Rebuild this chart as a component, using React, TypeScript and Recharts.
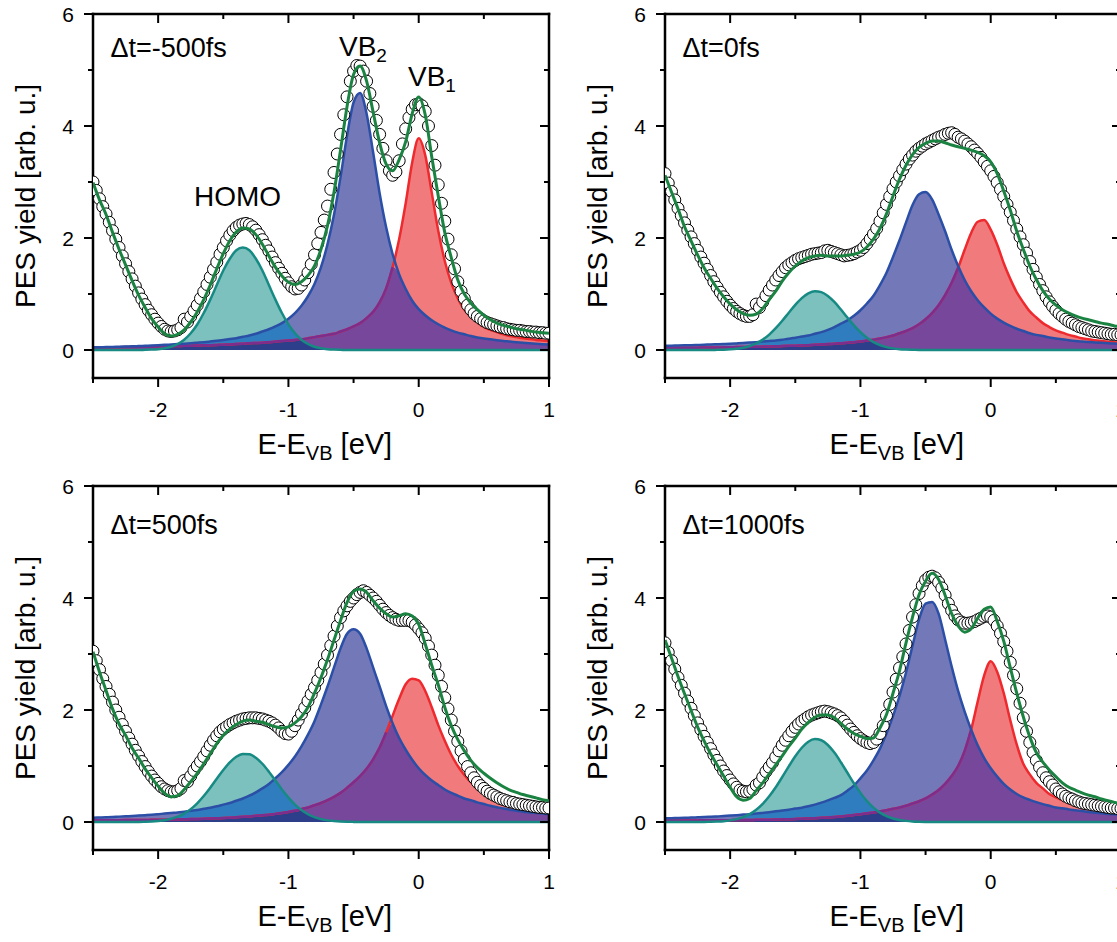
import React from "react";
import { ComposedChart, Area, Line, Scatter, XAxis, YAxis } from "recharts";

const FONT = '"Liberation Sans", Arial, Helvetica, sans-serif';

// ---------- energy axes (eV) ----------
const energyGrid = [
  -2.5, -2.45, -2.4, -2.35, -2.3, -2.25, -2.2, -2.15, -2.1, -2.05,
  -2.0, -1.95, -1.9, -1.85, -1.8, -1.75, -1.7, -1.65, -1.6, -1.55,
  -1.5, -1.45, -1.4, -1.35, -1.3, -1.25, -1.2, -1.15, -1.1, -1.05,
  -1.0, -0.95, -0.9, -0.85, -0.8, -0.75, -0.7, -0.65, -0.6, -0.55,
  -0.5, -0.45, -0.4, -0.35, -0.3, -0.25, -0.2, -0.15, -0.1, -0.05,
  0, 0.05, 0.1, 0.15, 0.2, 0.25, 0.3, 0.35, 0.4, 0.45,
  0.5, 0.55, 0.6, 0.65, 0.7, 0.75, 0.8, 0.85, 0.9, 0.95,
  1.0,
];

const measuredEnergy = [
  -2.5, -2.475, -2.45, -2.425, -2.4, -2.375, -2.35, -2.325, -2.3, -2.275,
  -2.25, -2.225, -2.2, -2.175, -2.15, -2.125, -2.1, -2.075, -2.05, -2.025,
  -2.0, -1.975, -1.95, -1.925, -1.9, -1.875, -1.85, -1.825, -1.8, -1.775,
  -1.75, -1.725, -1.7, -1.675, -1.65, -1.625, -1.6, -1.575, -1.55, -1.525,
  -1.5, -1.475, -1.45, -1.425, -1.4, -1.375, -1.35, -1.325, -1.3, -1.275,
  -1.25, -1.225, -1.2, -1.175, -1.15, -1.125, -1.1, -1.075, -1.05, -1.025,
  -1.0, -0.975, -0.95, -0.925, -0.9, -0.875, -0.85, -0.825, -0.8, -0.775,
  -0.75, -0.725, -0.7, -0.675, -0.65, -0.625, -0.6, -0.575, -0.55, -0.525,
  -0.5, -0.475, -0.45, -0.425, -0.4, -0.375, -0.35, -0.325, -0.3, -0.275,
  -0.25, -0.225, -0.2, -0.175, -0.15, -0.125, -0.1, -0.075, -0.05, -0.025,
  0, 0.025, 0.05, 0.075, 0.1, 0.125, 0.15, 0.175, 0.2, 0.225,
  0.25, 0.275, 0.3, 0.325, 0.35, 0.375, 0.4, 0.425, 0.45, 0.475,
  0.5, 0.525, 0.55, 0.575, 0.6, 0.625, 0.65, 0.675, 0.7, 0.725,
  0.75, 0.775, 0.8, 0.825, 0.85, 0.875, 0.9, 0.925, 0.95, 0.975,
  1.0,
];

const xTicks = [-2.5, -2, -1.5, -1, -0.5, 0, 0.5, 1];
const yTicks = [0, 1, 2, 3, 4, 5, 6];
const delayLabels = ["\u0394t=-500fs", "\u0394t=0fs", "\u0394t=500fs", "\u0394t=1000fs"];

// ---------- panel 1 : -500 fs ----------
const p1Homo = [
  0, 0, 0, 0, 0, 0, 0, 0.001, 0.003, 0.007,
  0.015, 0.031, 0.059, 0.107, 0.184, 0.298, 0.456, 0.66, 0.9, 1.16,
  1.42, 1.63, 1.78, 1.83, 1.78, 1.63, 1.42, 1.16, 0.9, 0.66,
  0.456, 0.298, 0.184, 0.107, 0.059, 0.031, 0.015, 0.007, 0.003, 0.001,
  0, 0, 0, 0, 0, 0, 0, 0, 0, 0,
  0, 0, 0, 0, 0, 0, 0, 0, 0, 0,
  0, 0, 0, 0, 0, 0, 0, 0, 0, 0,
  0,
];
const p1Vb2 = [
  0.046, 0.049, 0.052, 0.055, 0.058, 0.062, 0.066, 0.07, 0.075, 0.08,
  0.086, 0.092, 0.098, 0.105, 0.112, 0.12, 0.13, 0.14, 0.152, 0.165,
  0.18, 0.195, 0.21, 0.235, 0.26, 0.29, 0.33, 0.37, 0.42, 0.48,
  0.56, 0.66, 0.79, 0.96, 1.18, 1.48, 1.89, 2.42, 3.09, 3.83,
  4.42, 4.59, 4.22, 3.53, 2.8, 2.19, 1.71, 1.35, 1.09, 0.88,
  0.73, 0.62, 0.53, 0.46, 0.4, 0.35, 0.31, 0.28, 0.25, 0.225,
  0.205, 0.19, 0.175, 0.16, 0.15, 0.138, 0.128, 0.12, 0.112, 0.104,
  0.097,
];
const p1Vb1 = [
  0.044, 0.046, 0.047, 0.049, 0.05, 0.052, 0.054, 0.056, 0.058, 0.06,
  0.063, 0.065, 0.068, 0.071, 0.074, 0.077, 0.08, 0.083, 0.087, 0.091,
  0.095, 0.1, 0.105, 0.112, 0.12, 0.125, 0.13, 0.14, 0.15, 0.16,
  0.17, 0.18, 0.19, 0.21, 0.23, 0.25, 0.27, 0.29, 0.33, 0.37,
  0.42, 0.48, 0.57, 0.68, 0.85, 1.1, 1.48, 1.98, 2.62, 3.35,
  3.78, 3.48, 2.81, 2.13, 1.59, 1.2, 0.92, 0.72, 0.6, 0.5,
  0.41, 0.36, 0.32, 0.28, 0.25, 0.23, 0.21, 0.195, 0.18, 0.17,
  0.16,
];
const p1Fit = [
  2.99, 2.68, 2.42, 2.1, 1.8, 1.52, 1.24, 0.98, 0.76, 0.56,
  0.41, 0.29, 0.25, 0.28, 0.36, 0.5, 0.68, 0.9, 1.16, 1.45,
  1.72, 1.95, 2.11, 2.18, 2.16, 2.06, 1.89, 1.68, 1.48, 1.32,
  1.21, 1.17, 1.22, 1.33, 1.5, 1.8, 2.22, 2.82, 3.57, 4.35,
  4.92, 5.07, 4.8, 4.25, 3.7, 3.32, 3.2, 3.4, 3.72, 4.22,
  4.52, 4.2, 3.45, 2.75, 2.1, 1.65, 1.25, 1.0, 0.84, 0.72,
  0.62, 0.54, 0.48, 0.44, 0.41, 0.38, 0.36, 0.34, 0.32, 0.31,
  0.3,
];
const p1Pes = [
  3.0, 2.85, 2.7, 2.56, 2.43, 2.28, 2.13, 1.98, 1.83, 1.68,
  1.54, 1.4, 1.27, 1.14, 1.02, 0.91, 0.81, 0.71, 0.63, 0.55,
  0.48, 0.42, 0.37, 0.34, 0.33, 0.34, 0.36, 0.4, 0.55, 0.5,
  0.6, 0.7, 0.8, 0.92, 1.04, 1.17, 1.3, 1.44, 1.57, 1.71,
  1.83, 1.95, 2.05, 2.13, 2.19, 2.23, 2.25, 2.26, 2.24, 2.2,
  2.14, 2.06, 1.97, 1.87, 1.77, 1.66, 1.56, 1.46, 1.37, 1.28,
  1.2, 1.13, 1.09, 1.1, 1.16, 1.25, 1.38, 1.53, 1.7, 1.9,
  2.1, 2.32, 2.57, 2.87, 3.17, 3.5, 3.85, 4.2, 4.52, 4.8,
  4.98, 5.08, 5.07, 4.98, 4.8, 4.58, 4.35, 4.1, 3.85, 3.6,
  3.38, 3.2, 3.12, 3.18, 3.38, 3.68, 3.95, 4.15, 4.3, 4.38,
  4.4, 4.36, 4.26, 4.0, 3.65, 3.3, 2.95, 2.62, 2.3, 1.98,
  1.7, 1.45, 1.22, 1.05, 0.92, 0.8, 0.72, 0.65, 0.6, 0.56,
  0.52, 0.49, 0.47, 0.45, 0.43, 0.41, 0.4, 0.38, 0.37, 0.36,
  0.35, 0.35, 0.34, 0.33, 0.33, 0.32, 0.32, 0.31, 0.31, 0.3,
  0.3,
];

// ---------- panel 2 : 0 fs ----------
const p2Homo = [
  0, 0, 0, 0, 0, 0, 0, 0, 0.003, 0.006,
  0.012, 0.022, 0.041, 0.072, 0.118, 0.185, 0.275, 0.389, 0.522, 0.666,
  0.806, 0.927, 1.011, 1.05, 1.033, 0.966, 0.858, 0.723, 0.579, 0.44,
  0.318, 0.218, 0.142, 0.088, 0.052, 0.029, 0.015, 0.008, 0.004, 0.001,
  0, 0, 0, 0, 0, 0, 0, 0, 0, 0,
  0, 0, 0, 0, 0, 0, 0, 0, 0, 0,
  0, 0, 0, 0, 0, 0, 0, 0, 0, 0,
  0,
];
const p2Vb2 = [
  0.075, 0.078, 0.081, 0.084, 0.087, 0.09, 0.094, 0.098, 0.102, 0.107,
  0.112, 0.118, 0.125, 0.132, 0.14, 0.15, 0.16, 0.17, 0.185, 0.2,
  0.22, 0.24, 0.26, 0.29, 0.32, 0.36, 0.41, 0.47, 0.53, 0.61,
  0.71, 0.83, 0.97, 1.16, 1.38, 1.66, 1.96, 2.28, 2.59, 2.78,
  2.82, 2.69, 2.42, 2.12, 1.79, 1.5, 1.25, 1.05, 0.89, 0.76,
  0.65, 0.56, 0.49, 0.43, 0.38, 0.34, 0.3, 0.27, 0.25, 0.225,
  0.205, 0.19, 0.175, 0.162, 0.152, 0.143, 0.135, 0.128, 0.121, 0.115,
  0.11,
];
const p2Vb1 = [
  0.037, 0.038, 0.039, 0.04, 0.041, 0.042, 0.043, 0.045, 0.046, 0.048,
  0.05, 0.052, 0.054, 0.056, 0.058, 0.061, 0.064, 0.067, 0.07, 0.074,
  0.078, 0.082, 0.087, 0.092, 0.098, 0.105, 0.112, 0.12, 0.13, 0.14,
  0.152, 0.168, 0.185, 0.205, 0.23, 0.26, 0.3, 0.34, 0.39, 0.46,
  0.55, 0.66, 0.8, 0.98, 1.2, 1.47, 1.79, 2.09, 2.29, 2.32,
  2.15, 1.88, 1.55, 1.27, 1.03, 0.85, 0.69, 0.58, 0.48, 0.41,
  0.35, 0.31, 0.27, 0.24, 0.21, 0.19, 0.175, 0.16, 0.148, 0.137,
  0.128,
];
const p2Fit = [
  3.12, 2.82, 2.52, 2.2, 1.95, 1.7, 1.47, 1.28, 1.1, 0.95,
  0.82, 0.72, 0.65, 0.62, 0.64, 0.74, 0.9, 1.05, 1.23, 1.38,
  1.5, 1.59, 1.65, 1.68, 1.69, 1.68, 1.68, 1.68, 1.69, 1.71,
  1.75, 1.84, 1.98, 2.17, 2.43, 2.75, 3.05, 3.3, 3.49, 3.62,
  3.69, 3.73, 3.73, 3.7, 3.66, 3.63, 3.6, 3.57, 3.53, 3.47,
  3.36, 3.15, 2.84, 2.5, 2.12, 1.8, 1.5, 1.26, 1.06, 0.91,
  0.8, 0.72, 0.66, 0.61, 0.57, 0.54, 0.51, 0.48, 0.46, 0.43,
  0.42,
];
const p2Pes = [
  3.15, 2.98, 2.83, 2.68, 2.53, 2.4, 2.27, 2.14, 2.02, 1.9,
  1.78, 1.66, 1.55, 1.44, 1.33, 1.22, 1.12, 1.03, 0.95, 0.87,
  0.8, 0.74, 0.69, 0.65, 0.62, 0.6, 0.6, 0.63, 0.82, 0.76,
  0.86, 0.97, 1.07, 1.16, 1.25, 1.33, 1.4, 1.47, 1.52, 1.56,
  1.6, 1.63, 1.65, 1.67, 1.69, 1.71, 1.72, 1.73, 1.74, 1.77,
  1.78, 1.76, 1.74, 1.72, 1.7, 1.68, 1.69, 1.7, 1.72, 1.75,
  1.78, 1.83, 1.9, 1.98, 2.07, 2.17, 2.3, 2.45, 2.6, 2.74,
  2.88, 3.0, 3.11, 3.22, 3.32, 3.41, 3.48, 3.55, 3.6, 3.64,
  3.68, 3.71, 3.74, 3.77, 3.8, 3.82, 3.85, 3.87, 3.88, 3.85,
  3.8, 3.77, 3.73, 3.68, 3.63, 3.57, 3.51, 3.44, 3.36, 3.28,
  3.2, 3.1, 2.99, 2.87, 2.74, 2.6, 2.46, 2.31, 2.16, 2.02,
  1.88, 1.73, 1.58, 1.44, 1.3, 1.17, 1.06, 0.95, 0.86, 0.78,
  0.71, 0.65, 0.6, 0.55, 0.51, 0.48, 0.45, 0.42, 0.4, 0.38,
  0.36, 0.34, 0.33, 0.32, 0.31, 0.3, 0.29, 0.28, 0.28, 0.27,
  0.27,
];

// ---------- panel 3 : 500 fs ----------
const p3Homo = [
  0, 0, 0, 0, 0, 0, 0, 0.002, 0.0045, 0.009,
  0.018, 0.032, 0.057, 0.095, 0.151, 0.23, 0.334, 0.463, 0.612, 0.772,
  0.928, 1.065, 1.165, 1.215, 1.21, 1.148, 1.04, 0.898, 0.74, 0.582,
  0.436, 0.311, 0.213, 0.138, 0.086, 0.051, 0.029, 0.016, 0.008, 0.004,
  0.002, 0, 0, 0, 0, 0, 0, 0, 0, 0,
  0, 0, 0, 0, 0, 0, 0, 0, 0, 0,
  0, 0, 0, 0, 0, 0, 0, 0, 0, 0,
  0,
];
const p3Vb2 = [
  0.076, 0.08, 0.085, 0.09, 0.096, 0.102, 0.108, 0.115, 0.122, 0.13,
  0.14, 0.15, 0.16, 0.17, 0.185, 0.2, 0.215, 0.235, 0.255, 0.28,
  0.31, 0.34, 0.38, 0.42, 0.47, 0.53, 0.6, 0.68, 0.78, 0.89,
  1.02, 1.17, 1.35, 1.56, 1.8, 2.1, 2.42, 2.76, 3.1, 3.36,
  3.44, 3.36, 3.1, 2.76, 2.42, 2.07, 1.76, 1.5, 1.29, 1.11,
  0.96, 0.84, 0.74, 0.66, 0.58, 0.52, 0.47, 0.42, 0.39, 0.35,
  0.32, 0.29, 0.265, 0.24, 0.22, 0.2, 0.185, 0.17, 0.16, 0.15,
  0.14,
];
const p3Vb1 = [
  0.03, 0.03, 0.031, 0.032, 0.033, 0.034, 0.035, 0.036, 0.037, 0.038,
  0.04, 0.042, 0.044, 0.046, 0.049, 0.052, 0.055, 0.058, 0.062, 0.067,
  0.072, 0.078, 0.085, 0.092, 0.1, 0.11, 0.12, 0.13, 0.145, 0.16,
  0.18, 0.2, 0.23, 0.26, 0.3, 0.34, 0.39, 0.45, 0.52, 0.61,
  0.71, 0.82, 0.95, 1.12, 1.33, 1.6, 1.9, 2.2, 2.46, 2.56,
  2.53, 2.34, 2.05, 1.73, 1.45, 1.2, 1.0, 0.84, 0.71, 0.61,
  0.53, 0.46, 0.41, 0.36, 0.32, 0.285, 0.255, 0.23, 0.21, 0.195,
  0.18,
];
const p3Fit = [
  3.04, 2.68, 2.35, 2.02, 1.75, 1.55, 1.32, 1.14, 0.95, 0.79,
  0.64, 0.51, 0.45, 0.47, 0.58, 0.72, 0.87, 1.04, 1.22, 1.4,
  1.55, 1.66, 1.74, 1.8, 1.82, 1.8, 1.78, 1.74, 1.7, 1.68,
  1.7, 1.77, 1.88, 2.05, 2.3, 2.58, 2.9, 3.25, 3.6, 3.92,
  4.12, 4.16, 4.1, 3.95, 3.82, 3.72, 3.66, 3.68, 3.72, 3.68,
  3.53, 3.18, 2.8, 2.45, 2.05, 1.72, 1.47, 1.27, 1.1, 0.97,
  0.87, 0.78, 0.7, 0.63, 0.57, 0.53, 0.49, 0.46, 0.43, 0.4,
  0.38,
];
const p3Pes = [
  3.05, 2.88, 2.72, 2.56, 2.42, 2.28, 2.14, 2.0, 1.87, 1.74,
  1.62, 1.5, 1.39, 1.28, 1.18, 1.08, 0.99, 0.9, 0.82, 0.75,
  0.69, 0.63, 0.59, 0.56, 0.54, 0.54, 0.56, 0.6, 0.74, 0.72,
  0.82, 0.92, 1.0, 1.08, 1.17, 1.27, 1.37, 1.46, 1.54, 1.61,
  1.66, 1.7, 1.74, 1.77, 1.8, 1.82, 1.84, 1.85, 1.86, 1.86,
  1.86, 1.85, 1.84, 1.82, 1.8, 1.77, 1.73, 1.68, 1.62, 1.58,
  1.57, 1.62, 1.72, 1.82, 1.93, 2.04, 2.16, 2.28, 2.4, 2.53,
  2.67, 2.82, 2.98, 3.15, 3.32, 3.5, 3.65, 3.77, 3.86, 3.94,
  4.0, 4.06, 4.1, 4.13, 4.1, 4.05, 4.0, 3.94, 3.87, 3.8,
  3.74, 3.69, 3.65, 3.62, 3.6, 3.6, 3.6, 3.6, 3.57, 3.52,
  3.45, 3.38, 3.28, 3.14, 2.98, 2.8, 2.62, 2.42, 2.22, 2.02,
  1.82, 1.62, 1.44, 1.27, 1.12, 0.99, 0.88, 0.79, 0.71, 0.65,
  0.6, 0.55, 0.51, 0.48, 0.45, 0.42, 0.4, 0.38, 0.36, 0.35,
  0.33, 0.32, 0.31, 0.3, 0.29, 0.28, 0.27, 0.26, 0.26, 0.25,
  0.25,
];

// ---------- panel 4 : 1000 fs ----------
const p4Homo = [
  0, 0, 0, 0, 0, 0, 0.002, 0.004, 0.008, 0.015,
  0.029, 0.051, 0.087, 0.14, 0.218, 0.323, 0.458, 0.62, 0.803, 0.993,
  1.174, 1.326, 1.433, 1.48, 1.459, 1.375, 1.239, 1.067, 0.879, 0.691,
  0.52, 0.373, 0.256, 0.168, 0.106, 0.063, 0.036, 0.02, 0.01, 0.005,
  0.002, 0, 0, 0, 0, 0, 0, 0, 0, 0,
  0, 0, 0, 0, 0, 0, 0, 0, 0, 0,
  0, 0, 0, 0, 0, 0, 0, 0, 0, 0,
  0,
];
const p4Vb2 = [
  0.066, 0.069, 0.072, 0.075, 0.079, 0.083, 0.088, 0.093, 0.099, 0.106,
  0.114, 0.122, 0.132, 0.14, 0.15, 0.162, 0.175, 0.19, 0.205, 0.22,
  0.24, 0.255, 0.28, 0.31, 0.345, 0.385, 0.43, 0.48, 0.56, 0.65,
  0.78, 0.92, 1.1, 1.31, 1.58, 1.89, 2.25, 2.67, 3.15, 3.62,
  3.9, 3.93, 3.72, 3.26, 2.78, 2.34, 1.97, 1.65, 1.37, 1.14,
  0.96, 0.81, 0.68, 0.58, 0.5, 0.44, 0.395, 0.355, 0.32, 0.29,
  0.26, 0.245, 0.225, 0.21, 0.195, 0.18, 0.167, 0.155, 0.145, 0.137,
  0.13,
];
const p4Vb1 = [
  0.027, 0.027, 0.028, 0.028, 0.029, 0.029, 0.03, 0.03, 0.031, 0.032,
  0.033, 0.034, 0.035, 0.036, 0.038, 0.04, 0.042, 0.044, 0.047, 0.05,
  0.054, 0.058, 0.063, 0.068, 0.075, 0.082, 0.09, 0.1, 0.11, 0.125,
  0.14, 0.155, 0.17, 0.19, 0.21, 0.235, 0.26, 0.29, 0.33, 0.37,
  0.42, 0.49, 0.57, 0.68, 0.82, 1.0, 1.27, 1.65, 2.15, 2.62,
  2.87, 2.68, 2.3, 1.82, 1.38, 1.04, 0.85, 0.7, 0.6, 0.5,
  0.44, 0.39, 0.34, 0.31, 0.28, 0.26, 0.24, 0.22, 0.2, 0.19,
  0.18,
];
const p4Fit = [
  3.25, 2.93, 2.6, 2.29, 1.99, 1.7, 1.45, 1.22, 1.02, 0.82,
  0.62, 0.45, 0.39, 0.42, 0.56, 0.7, 0.86, 1.02, 1.18, 1.35,
  1.5, 1.66, 1.78, 1.87, 1.91, 1.91, 1.86, 1.76, 1.66, 1.58,
  1.53, 1.49, 1.5, 1.68, 1.92, 2.3, 2.7, 3.2, 3.66, 4.06,
  4.3, 4.44, 4.33, 4.05, 3.72, 3.5, 3.39, 3.45, 3.64, 3.8,
  3.84, 3.58, 3.23, 2.76, 2.3, 1.88, 1.52, 1.24, 1.07, 0.93,
  0.81, 0.7, 0.62, 0.57, 0.52, 0.48, 0.45, 0.41, 0.38, 0.35,
  0.32,
];
const p4Pes = [
  3.2, 3.03, 2.88, 2.73, 2.58, 2.44, 2.3, 2.16, 2.03, 1.9,
  1.77, 1.65, 1.53, 1.42, 1.31, 1.2, 1.1, 1.0, 0.91, 0.83,
  0.75, 0.68, 0.62, 0.57, 0.55, 0.54, 0.55, 0.58, 0.66, 0.7,
  0.8, 0.9, 0.98, 1.06, 1.16, 1.27, 1.37, 1.46, 1.54, 1.62,
  1.69, 1.75, 1.8, 1.84, 1.88, 1.91, 1.93, 1.95, 1.97, 1.98,
  1.97, 1.95, 1.93, 1.9, 1.86, 1.8, 1.73, 1.66, 1.6, 1.54,
  1.49, 1.45, 1.42, 1.4, 1.42, 1.48, 1.58, 1.72, 1.9, 2.1,
  2.32, 2.55, 2.75, 2.95, 3.18, 3.42, 3.66, 3.88, 4.08, 4.22,
  4.32, 4.37, 4.39, 4.36, 4.28, 4.18, 4.05, 3.9, 3.78, 3.68,
  3.61, 3.57, 3.55, 3.55, 3.56, 3.58, 3.61, 3.64, 3.67, 3.68,
  3.66, 3.6, 3.5, 3.37, 3.22, 3.05, 2.85, 2.62, 2.38, 2.12,
  1.86, 1.62, 1.42, 1.24, 1.1, 0.98, 0.88, 0.79, 0.72, 0.66,
  0.59, 0.54, 0.5, 0.46, 0.43, 0.41, 0.38, 0.36, 0.34, 0.33,
  0.32, 0.31, 0.3, 0.29, 0.28, 0.27, 0.26, 0.25, 0.25, 0.24,
  0.24,
];

// ---------- layout ----------
const PLOT_W = 456;
const PLOT_H = 364;
const LEFT_W = 92;
const RIGHT_W = 20;
const TOP_H = 14;
const BOTTOM_H = 90;
const CHART_W = LEFT_W + PLOT_W + RIGHT_W;
const CHART_H = TOP_H + PLOT_H + BOTTOM_H;

const C = {
  homoFill: "#7cc1bd",
  homoLine: "#178a84",
  vb2Fill: "#7378b8",
  vb2Line: "#2b4fa6",
  vb1Fill: "#f07a7c",
  vb1Line: "#ee2a2e",
  homoVb2: "#2f7dbf",
  vb1Vb2: "#76479b",
  all3: "#2d3f8a",
  vb1Under: "#7d2d8e",
  fit: "#1a8341",
};

const panels = [
  { left: 92.5, top: 14, homo: p1Homo, vb2: p1Vb2, vb1: p1Vb1, fit: p1Fit, pes: p1Pes, label: delayLabels[0], peaks: true },
  { left: 664.5, top: 14, homo: p2Homo, vb2: p2Vb2, vb1: p2Vb1, fit: p2Fit, pes: p2Pes, label: delayLabels[1], peaks: false },
  { left: 92.5, top: 486, homo: p3Homo, vb2: p3Vb2, vb1: p3Vb1, fit: p3Fit, pes: p3Pes, label: delayLabels[2], peaks: false },
  { left: 664.5, top: 486, homo: p4Homo, vb2: p4Vb2, vb1: p4Vb1, fit: p4Fit, pes: p4Pes, label: delayLabels[3], peaks: false },
];

const isInt = (v: number) => Math.abs(v - Math.round(v)) < 1e-9;
const isEven = (v: number) => isInt(v) && Math.round(v) % 2 === 0;

const BottomTick = (props: any) => {
  const { x, y, payload } = props;
  const v = payload.value;
  const major = isInt(v);
  return (
    <g>
      <line x1={x} x2={x} y1={y} y2={y + (major ? 9 : 5)} stroke="#000" strokeWidth={2} />
      {major ? (
        <text x={x} y={y + 39} textAnchor="middle" fontSize={21} fontFamily={FONT} fill="#000">
          {String(v)}
        </text>
      ) : null}
    </g>
  );
};

const TopTick = (props: any) => {
  const { x, y, payload } = props;
  const major = isInt(payload.value);
  return <line x1={x} x2={x} y1={y} y2={y + (major ? 9 : 5)} stroke="#000" strokeWidth={2} />;
};

const LeftTick = (props: any) => {
  const { x, y, payload } = props;
  const v = payload.value;
  const major = isEven(v);
  return (
    <g>
      <line x1={x} x2={x - (major ? 9 : 5)} y1={y} y2={y} stroke="#000" strokeWidth={2} />
      {major ? (
        <text x={x - 19} y={y} dy="0.36em" textAnchor="end" fontSize={21} fontFamily={FONT} fill="#000">
          {String(v)}
        </text>
      ) : null}
    </g>
  );
};

const RightTick = (props: any) => {
  const { x, y, payload } = props;
  const major = isEven(payload.value);
  return <line x1={x} x2={x - (major ? 9 : 5)} y1={y} y2={y} stroke="#000" strokeWidth={2} />;
};

const Circle = (p: any) =>
  p.cx == null || p.cy == null ? null : (
    <circle cx={p.cx} cy={p.cy} r={6} fill="#fff" stroke="#000" strokeWidth={1} />
  );

function buildRows(homo: number[], vb2: number[], vb1: number[], fit: number[]) {
  return energyGrid.map((x, i) => ({
    x,
    homo: homo[i],
    vb2: vb2[i],
    vb1: vb1[i],
    fit: fit[i],
    homoVb2: Math.min(homo[i], vb2[i]),
    vb1Vb2: Math.min(vb1[i], vb2[i]),
    all3: Math.min(homo[i], vb1[i], vb2[i]),
    vb1Under: vb1[i] <= vb2[i] ? vb1[i] : null,
  }));
}

const axisLine = { stroke: "#000", strokeWidth: 2.5, strokeLinecap: "square" };

// axes shared by both layers; `visible` controls whether lines/ticks are drawn
function axes(visible: boolean) {
  return [
    <XAxis
      key="xb"
      xAxisId="b"
      dataKey="x"
      type="number"
      domain={[-2.5, 1]}
      allowDataOverflow
      ticks={xTicks}
      interval={0}
      height={BOTTOM_H}
      tickSize={0}
      tickMargin={0}
      tickLine={false}
      tick={visible ? <BottomTick /> : false}
      axisLine={visible ? axisLine : false}
    />,
    <XAxis
      key="xt"
      xAxisId="t"
      orientation="top"
      dataKey="x"
      type="number"
      domain={[-2.5, 1]}
      allowDataOverflow
      ticks={xTicks}
      interval={0}
      height={TOP_H}
      tickSize={0}
      tickMargin={0}
      tickLine={false}
      tick={visible ? <TopTick /> : false}
      axisLine={visible ? axisLine : false}
    />,
    <YAxis
      key="yl"
      yAxisId="l"
      type="number"
      domain={[-0.5, 6]}
      allowDataOverflow
      ticks={yTicks}
      interval={0}
      width={LEFT_W}
      tickSize={0}
      tickMargin={0}
      tickLine={false}
      tick={visible ? <LeftTick /> : false}
      axisLine={visible ? axisLine : false}
    />,
    <YAxis
      key="yr"
      yAxisId="r"
      orientation="right"
      type="number"
      domain={[-0.5, 6]}
      allowDataOverflow
      ticks={yTicks}
      interval={0}
      width={RIGHT_W}
      tickSize={0}
      tickMargin={0}
      tickLine={false}
      tick={visible ? <RightTick /> : false}
      axisLine={visible ? axisLine : false}
    />,
  ];
}

function Panel({ cfg }: { cfg: any }) {
  const rows = buildRows(cfg.homo, cfg.vb2, cfg.vb1, cfg.fit);
  const points = measuredEnergy.map((x, i) => ({ x, y: cfg.pes[i] }));
  const common = { xAxisId: "b", yAxisId: "l", isAnimationActive: false };
  const pos = { position: "absolute" as const, left: cfg.left - LEFT_W, top: cfg.top - TOP_H };
  return (
    <>
      <div style={pos}>
        <ComposedChart width={CHART_W} height={CHART_H} data={rows} margin={{ top: 0, right: 0, bottom: 0, left: 0 }}>
          {axes(true)}
          <Area {...common} dataKey="homo" type="monotone" baseValue={0} fill={C.homoFill} fillOpacity={1} stroke="none" />
          <Area {...common} dataKey="vb2" type="monotone" baseValue={0} fill={C.vb2Fill} fillOpacity={1} stroke="none" />
          <Area {...common} dataKey="vb1" type="monotone" baseValue={0} fill={C.vb1Fill} fillOpacity={1} stroke="none" />
          <Area {...common} dataKey="homoVb2" type="monotone" baseValue={0} fill={C.homoVb2} fillOpacity={1} stroke="none" />
          <Area {...common} dataKey="vb1Vb2" type="monotone" baseValue={0} fill={C.vb1Vb2} fillOpacity={1} stroke="none" />
          <Area {...common} dataKey="all3" type="monotone" baseValue={0} fill={C.all3} fillOpacity={1} stroke="none" />
          <Line {...common} dataKey="vb1" type="monotone" stroke={C.vb1Line} strokeWidth={2.5} dot={false} />
          <Line {...common} dataKey="vb1Under" type="monotone" stroke={C.vb1Under} strokeWidth={2.5} dot={false} connectNulls={false} />
          <Line {...common} dataKey="vb2" type="monotone" stroke={C.vb2Line} strokeWidth={2.5} dot={false} />
          <Line {...common} dataKey="homo" type="monotone" stroke={C.homoLine} strokeWidth={2.5} dot={false} />
          <Scatter {...common} data={points} dataKey="y" shape={Circle} />
        </ComposedChart>
      </div>
      <div style={{ ...pos, pointerEvents: "none" }}>
        <ComposedChart width={CHART_W} height={CHART_H} data={rows} margin={{ top: 0, right: 0, bottom: 0, left: 0 }}>
          {axes(false)}
          <Line {...common} dataKey="fit" type="monotone" stroke={C.fit} strokeWidth={3} dot={false} />
        </ComposedChart>
      </div>
    </>
  );
}

function PanelText({ cfg }: { cfg: any }) {
  const L = cfg.left;
  const T = cfg.top;
  const axisY = T + PLOT_H;
  const labelBase = T < 100 ? 57 : 534;
  return (
    <g fontFamily={FONT} fill="#000">
      <text
        transform={`translate(${L - 58}, ${T + PLOT_H / 2}) rotate(-90)`}
        textAnchor="middle"
        fontSize={28}
      >
        PES yield [arb. u.]
      </text>
      <text x={L + 165} y={axisY + 76} fontSize={29}>
        E-E
        <tspan fontSize={20} dy={6}>VB</tspan>
        <tspan dy={-6}>{" [eV]"}</tspan>
      </text>
      <text x={L + 18} y={labelBase} fontSize={27}>
        {cfg.label}
      </text>
      {cfg.peaks ? (
        <>
          <text x={194} y={206} fontSize={28}>HOMO</text>
          <text x={339} y={56} fontSize={28}>
            VB<tspan fontSize={19} dy={6}>2</tspan>
          </text>
          <text x={408} y={86} fontSize={28}>
            VB<tspan fontSize={19} dy={6}>1</tspan>
          </text>
        </>
      ) : null}
    </g>
  );
}

export default function App() {
  return (
    <div
      style={{
        position: "absolute",
        left: 0,
        top: 0,
        width: 1117,
        height: 942,
        overflow: "hidden",
        background: "#fff",
      }}
    >
      {panels.map((cfg, i) => (
        <Panel key={i} cfg={cfg} />
      ))}
      <svg
        width={1117}
        height={942}
        style={{ position: "absolute", left: 0, top: 0, pointerEvents: "none" }}
      >
        {panels.map((cfg, i) => (
          <PanelText key={i} cfg={cfg} />
        ))}
      </svg>
    </div>
  );
}
